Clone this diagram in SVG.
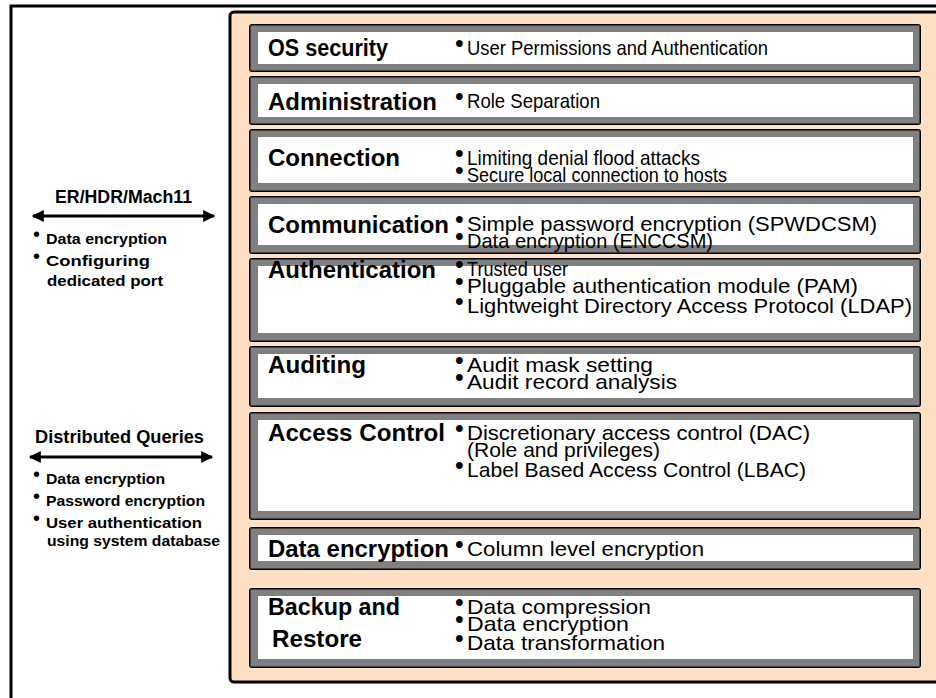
<svg xmlns="http://www.w3.org/2000/svg" width="936" height="698" viewBox="0 0 936 698">
  <style>
    .frame { fill: #ffffff; stroke: #000000; stroke-width: 3; }
    .panel { fill: #ffe0c4; stroke: #000000; stroke-width: 3; }
    .box-edge { fill: #000000; }
    .box-gray { fill: #808080; }
    .box-face { fill: #ffffff; }
    .label { font-family: "Liberation Sans", Arial, sans-serif; font-weight: bold; font-size: 23px; fill: #000000; }
    .item { font-family: "Liberation Sans", Arial, sans-serif; font-size: 21px; fill: #000000; }
    .dot { font-family: "Liberation Sans", Arial, sans-serif; font-size: 25px; fill: #000000; }
    .side-title { font-family: "Liberation Sans", Arial, sans-serif; font-weight: bold; font-size: 18px; fill: #000000; }
    .side-item { font-family: "Liberation Sans", Arial, sans-serif; font-weight: bold; font-size: 15px; fill: #000000; }
    .side-dot { font-family: "Liberation Sans", Arial, sans-serif; font-size: 20px; fill: #000000; }
    .link { stroke: #000000; stroke-width: 3; fill: none; }
  </style>
  <defs>
    <marker id="head" viewBox="0 0 10 10" refX="9" refY="5" markerWidth="5" markerHeight="4" orient="auto-start-reverse" markerUnits="strokeWidth">
      <path d="M0,0 L10,5 L0,10 Z" fill="#000000"/>
    </marker>
  </defs>

  <!-- outer frame and feature panel -->
  <rect class="frame" x="11" y="6" width="940" height="710"/>
  <rect class="panel" x="230" y="12" width="720" height="670" rx="4"/>

  <!-- layer: OS security -->
  <g id="os-security">
    <rect class="box-edge" x="249" y="24" width="672" height="48" rx="3"/>
    <rect class="box-gray" x="250.5" y="25.5" width="669" height="45"/>
    <rect class="box-face" x="258" y="32" width="655" height="32"/>
    <text class="label" x="268" y="56" textLength="120" lengthAdjust="spacingAndGlyphs">OS security</text>
    <text class="dot" x="455" y="52">•</text>
    <text class="item" x="467" y="55" textLength="301" lengthAdjust="spacingAndGlyphs">User Permissions and Authentication</text>
  </g>

  <!-- layer: Administration -->
  <g id="administration">
    <rect class="box-edge" x="249" y="76" width="672" height="49" rx="3"/>
    <rect class="box-gray" x="250.5" y="77.5" width="669" height="46"/>
    <rect class="box-face" x="258" y="84" width="655" height="33"/>
    <text class="label" x="268" y="110" textLength="169" lengthAdjust="spacingAndGlyphs">Administration</text>
    <text class="dot" x="455" y="105">•</text>
    <text class="item" x="467" y="108" textLength="133" lengthAdjust="spacingAndGlyphs">Role Separation</text>
  </g>

  <!-- layer: Connection -->
  <g id="connection">
    <rect class="box-edge" x="249" y="129" width="672" height="63" rx="3"/>
    <rect class="box-gray" x="250.5" y="130.5" width="669" height="60"/>
    <rect class="box-face" x="258" y="137" width="655" height="46"/>
    <text class="label" x="268" y="166" textLength="132" lengthAdjust="spacingAndGlyphs">Connection</text>
    <text class="dot" x="455" y="162">•</text>
    <text class="item" x="467" y="165" textLength="233" lengthAdjust="spacingAndGlyphs">Limiting denial flood attacks</text>
    <text class="dot" x="455" y="179">•</text>
    <text class="item" x="467" y="182" textLength="260" lengthAdjust="spacingAndGlyphs">Secure local connection to hosts</text>
  </g>

  <!-- layer: Communication -->
  <g id="communication">
    <rect class="box-edge" x="249" y="196" width="672" height="58" rx="3"/>
    <rect class="box-gray" x="250.5" y="197.5" width="669" height="55"/>
    <rect class="box-face" x="258" y="204" width="655" height="41"/>
    <text class="label" x="268" y="233" textLength="181" lengthAdjust="spacingAndGlyphs">Communication</text>
    <text class="dot" x="455" y="228">•</text>
    <text class="item" x="467" y="231" textLength="410" lengthAdjust="spacingAndGlyphs">Simple password encryption (SPWDCSM)</text>
    <text class="dot" x="455" y="245">•</text>
    <text class="item" x="467" y="248" textLength="246" lengthAdjust="spacingAndGlyphs">Data encryption  (ENCCSM)</text>
  </g>

  <!-- layer: Authentication -->
  <g id="authentication">
    <rect class="box-edge" x="249" y="258" width="672" height="84" rx="3"/>
    <rect class="box-gray" x="250.5" y="259.5" width="669" height="81"/>
    <rect class="box-face" x="258" y="266" width="655" height="67"/>
    <text class="label" x="268" y="278" textLength="168" lengthAdjust="spacingAndGlyphs">Authentication</text>
    <text class="dot" x="455" y="273">•</text>
    <text class="item" x="467" y="276" textLength="101" lengthAdjust="spacingAndGlyphs">Trusted user</text>
    <text class="dot" x="455" y="290">•</text>
    <text class="item" x="467" y="293" textLength="391" lengthAdjust="spacingAndGlyphs">Pluggable authentication module  (PAM)</text>
    <text class="dot" x="455" y="310">•</text>
    <text class="item" x="467" y="313" textLength="445" lengthAdjust="spacingAndGlyphs">Lightweight Directory Access Protocol (LDAP)</text>
  </g>

  <!-- layer: Auditing -->
  <g id="auditing">
    <rect class="box-edge" x="249" y="346" width="672" height="61" rx="3"/>
    <rect class="box-gray" x="250.5" y="347.5" width="669" height="58"/>
    <rect class="box-face" x="258" y="354" width="655" height="44"/>
    <text class="label" x="268" y="373" textLength="98" lengthAdjust="spacingAndGlyphs">Auditing</text>
    <text class="dot" x="455" y="369">•</text>
    <text class="item" x="467" y="372" textLength="186" lengthAdjust="spacingAndGlyphs">Audit mask setting</text>
    <text class="dot" x="455" y="386">•</text>
    <text class="item" x="467" y="389" textLength="210" lengthAdjust="spacingAndGlyphs">Audit record analysis</text>
  </g>

  <!-- layer: Access Control -->
  <g id="access-control">
    <rect class="box-edge" x="249" y="412" width="672" height="108" rx="3"/>
    <rect class="box-gray" x="250.5" y="413.5" width="669" height="105"/>
    <rect class="box-face" x="258" y="420" width="655" height="91"/>
    <text class="label" x="268" y="441" textLength="177" lengthAdjust="spacingAndGlyphs">Access Control</text>
    <text class="dot" x="455" y="437">•</text>
    <text class="item" x="467" y="440" textLength="343" lengthAdjust="spacingAndGlyphs">Discretionary access control (DAC)</text>
    <text class="item" x="467" y="457" textLength="193" lengthAdjust="spacingAndGlyphs">(Role and privileges)</text>
    <text class="dot" x="455" y="474">•</text>
    <text class="item" x="467" y="477" textLength="339" lengthAdjust="spacingAndGlyphs">Label Based Access Control (LBAC)</text>
  </g>

  <!-- layer: Data encryption -->
  <g id="data-encryption">
    <rect class="box-edge" x="249" y="527" width="672" height="43" rx="3"/>
    <rect class="box-gray" x="250.5" y="528.5" width="669" height="40"/>
    <rect class="box-face" x="258" y="535" width="655" height="26"/>
    <text class="label" x="268" y="557" textLength="181" lengthAdjust="spacingAndGlyphs">Data encryption</text>
    <text class="dot" x="455" y="553">•</text>
    <text class="item" x="467" y="556" textLength="237" lengthAdjust="spacingAndGlyphs">Column level encryption</text>
  </g>

  <!-- layer: Backup and Restore -->
  <g id="backup-restore">
    <rect class="box-edge" x="249" y="588" width="672" height="80" rx="3"/>
    <rect class="box-gray" x="250.5" y="589.5" width="669" height="77"/>
    <rect class="box-face" x="258" y="596" width="655" height="63"/>
    <text class="label" x="268" y="615" textLength="132" lengthAdjust="spacingAndGlyphs">Backup and</text>
    <text class="label" x="272" y="647" textLength="90" lengthAdjust="spacingAndGlyphs">Restore</text>
    <text class="dot" x="455" y="611">•</text>
    <text class="item" x="467" y="614" textLength="184" lengthAdjust="spacingAndGlyphs">Data compression</text>
    <text class="dot" x="455" y="628">•</text>
    <text class="item" x="467" y="631" textLength="162" lengthAdjust="spacingAndGlyphs">Data encryption</text>
    <text class="dot" x="455" y="647">•</text>
    <text class="item" x="467" y="650" textLength="198" lengthAdjust="spacingAndGlyphs">Data transformation</text>
  </g>

  <!-- replication channel -->
  <g id="er-hdr-mach11">
    <text class="side-title" x="55" y="203" textLength="137" lengthAdjust="spacingAndGlyphs">ER/HDR/Mach11</text>
    <text class="side-dot" x="33" y="241">•</text>
    <text class="side-item" x="46" y="244" textLength="121" lengthAdjust="spacingAndGlyphs">Data encryption</text>
    <text class="side-dot" x="33" y="263">•</text>
    <text class="side-item" x="46" y="266" textLength="104" lengthAdjust="spacingAndGlyphs">Configuring</text>
    <text class="side-item" x="47" y="286" textLength="116" lengthAdjust="spacingAndGlyphs">dedicated port</text>
  </g>

  <!-- distributed query channel -->
  <g id="distributed-queries">
    <text class="side-title" x="35" y="443" textLength="169" lengthAdjust="spacingAndGlyphs">Distributed Queries</text>
    <text class="side-dot" x="33" y="481">•</text>
    <text class="side-item" x="46" y="484" textLength="119" lengthAdjust="spacingAndGlyphs">Data encryption</text>
    <text class="side-dot" x="33" y="503">•</text>
    <text class="side-item" x="46" y="506" textLength="159" lengthAdjust="spacingAndGlyphs">Password encryption</text>
    <text class="side-dot" x="33" y="525">•</text>
    <text class="side-item" x="46" y="528" textLength="156" lengthAdjust="spacingAndGlyphs">User authentication</text>
    <text class="side-item" x="47" y="546" textLength="173" lengthAdjust="spacingAndGlyphs">using system database</text>
  </g>

  <!-- two-way connectors -->
  <g id="connectors">
    <line class="link" x1="33" y1="216" x2="214" y2="216" marker-start="url(#head)" marker-end="url(#head)"/>
    <line class="link" x1="30" y1="457" x2="212" y2="457" marker-start="url(#head)" marker-end="url(#head)"/>
  </g>
</svg>
